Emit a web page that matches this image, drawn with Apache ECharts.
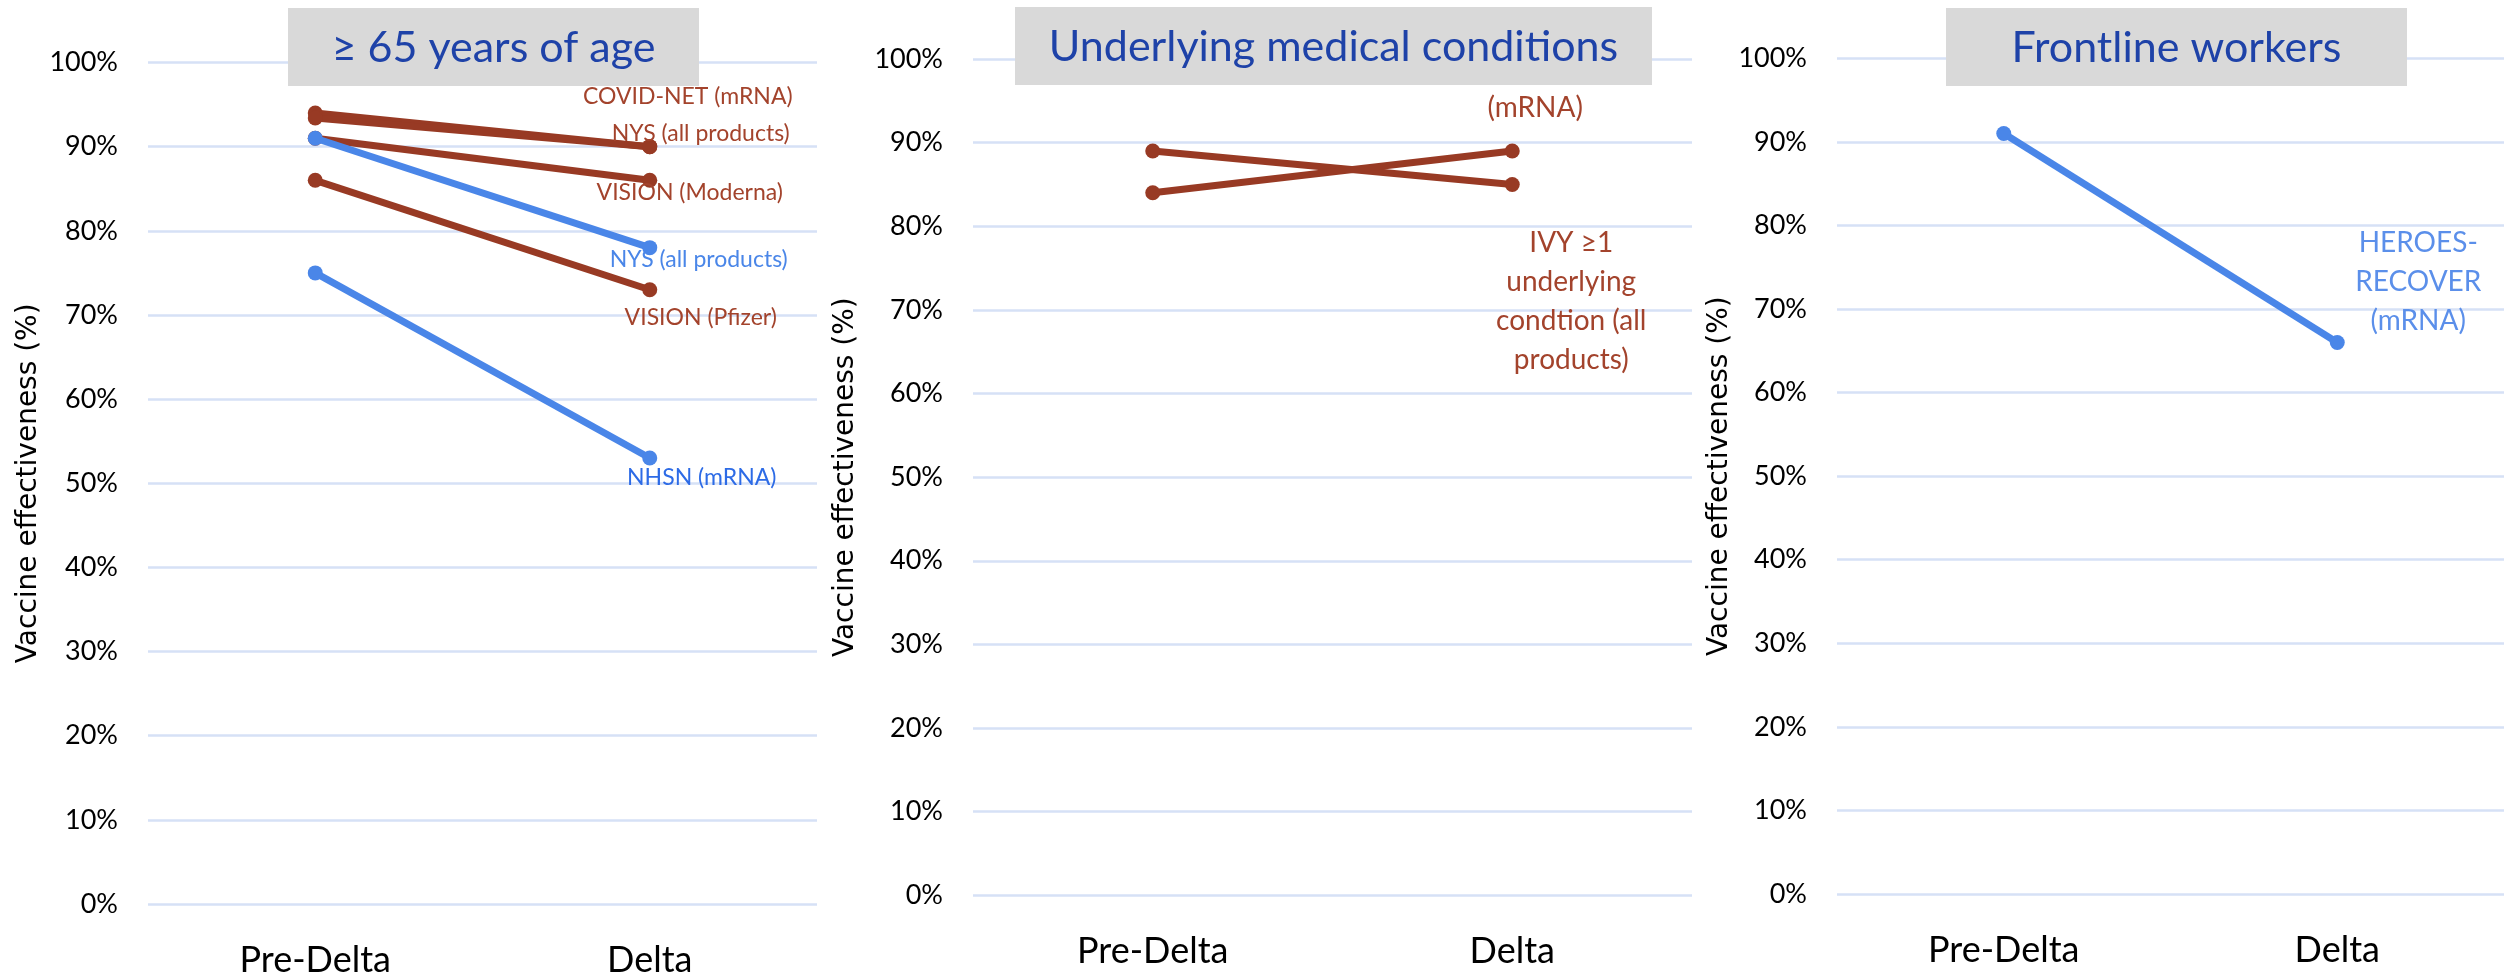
<!DOCTYPE html>
<html>
<head>
<meta charset="utf-8">
<title>Vaccine effectiveness, Pre-Delta vs Delta</title>
<script src="https://cdn.jsdelivr.net/npm/echarts@6.0.0/dist/echarts.min.js"></script>
<style>
  html, body { margin: 0; padding: 0; background: #ffffff; }
  #chart { width: 2504px; height: 980px; }
</style>
</head>
<body>
<div id="chart"></div>
<script>
// ---- data ----
const categories = ['Pre-Delta', 'Delta'];
const yTicks = [0, 10, 20, 30, 40, 50, 60, 70, 80, 90, 100];
const panelTitles = ['\u2265 65 years of age', 'Underlying medical conditions', 'Frontline workers'];
const axisName = 'Vaccine effectiveness (%)';

// ≥ 65 years of age
const olderNames = ['COVID-NET (mRNA)', 'NYS (all products)', 'VISION (Moderna)', 'VISION (Pfizer)', 'NYS (all products)', 'NHSN (mRNA)'];
const olderPreDelta = [94, 93.4, 91, 86, 91, 75];
const olderDelta = [90, 90, 86, 73, 78, 53];

// Underlying medical conditions
const conditionNames = ['IVY \u22651\nunderlying\ncondtion (all\nproducts)', '(mRNA)'];
const conditionPreDelta = [89, 84];
const conditionDelta = [85, 89];

// Frontline workers
const frontlineNames = ['HEROES-\nRECOVER\n(mRNA)'];
const frontlinePreDelta = [91];
const frontlineDelta = [66];

// ---- styling ----
const BROWN = '#983a24';
const BROWN_TEXT = '#a3432c';
const BLUE = '#4a86e8';
const FONT = 'Lato, "Noto Sans", sans-serif';

// panel layout: plot rectangles and label placement
const panels = [
  { left: 148, top: 62.5, width: 669, height: 841.5, nameGap: 105, box: [288, 8, 411, 78] },
  { left: 973, top: 59, width: 719, height: 836.3, nameGap: 113, box: [1015, 7, 637, 78] },
  { left: 1837, top: 58.3, width: 667, height: 835.7, nameGap: 103, box: [1946, 8, 461, 78] }
];

// per-series look: colour, label colour, label offset from the Delta point
const olderStyle = [
  { color: BROWN, text: BROWN_TEXT, offset: [38, -50] },
  { color: BROWN, text: BROWN_TEXT, offset: [51, -13] },
  { color: BROWN, text: BROWN_TEXT, offset: [40, 12] },
  { color: BROWN, text: BROWN_TEXT, offset: [51, 28] },
  { color: BLUE, text: '#4a86e8', offset: [49, 12] },
  { color: BLUE, text: '#2d6be6', offset: [52, 20] }
];
const conditionStyle = [
  { color: BROWN, text: BROWN_TEXT, offset: [59, 117] },
  { color: BROWN, text: BROWN_TEXT, offset: [23, -43] }
];
const frontlineStyle = [
  { color: BLUE, text: '#5b8fea', offset: [81, -60] }
];

function buildSeries(panelIndex, names, pre, delta, styles, labelSize) {
  return names.map(function (name, i) {
    const st = styles[i];
    return {
      type: 'line',
      name: name,
      xAxisIndex: panelIndex,
      yAxisIndex: panelIndex,
      symbol: 'circle',
      symbolSize: 15,
      showSymbol: true,
      animation: false,
      lineStyle: { color: st.color, width: 7 },
      itemStyle: { color: st.color },
      emphasis: { disabled: true },
      z: st.color === BLUE ? 4 : 3,
      data: [
        pre[i],
        {
          value: delta[i],
          label: {
            show: true,
            formatter: name,
            position: 'inside',
            align: 'center',
            verticalAlign: 'middle',
            offset: st.offset,
            color: st.text,
            fontFamily: FONT,
            fontSize: labelSize,
            lineHeight: Math.round(labelSize * 1.38)
          }
        }
      ]
    };
  });
}

const grids = panels.map(function (p) {
  return { left: p.left, top: p.top, width: p.width, height: p.height, containLabel: false };
});

const xAxes = panels.map(function (p, i) {
  return {
    type: 'category',
    gridIndex: i,
    data: categories,
    boundaryGap: true,
    axisLine: { show: false },
    axisTick: { show: false },
    axisLabel: { color: '#000000', fontFamily: FONT, fontSize: 36, margin: 38 },
    splitLine: { show: false }
  };
});

const yAxes = panels.map(function (p, i) {
  return {
    type: 'value',
    gridIndex: i,
    min: yTicks[0],
    max: yTicks[yTicks.length - 1],
    interval: yTicks[1] - yTicks[0],
    name: axisName,
    nameLocation: 'middle',
    nameRotate: 90,
    nameGap: p.nameGap,
    nameTextStyle: { color: '#000000', fontFamily: '"DejaVu Sans", sans-serif', fontSize: 28 },
    axisLine: { show: false },
    axisTick: { show: false },
    axisLabel: { color: '#000000', fontFamily: FONT, fontSize: 27, margin: 30, formatter: '{value}%' },
    splitLine: { show: true, lineStyle: { color: '#d6e1f6', width: 2.5 } }
  };
});

const titleGraphics = [];
panels.forEach(function (p, i) {
  const b = p.box;
  titleGraphics.push({
    type: 'rect',
    z: 100,
    shape: { x: b[0], y: b[1], width: b[2], height: b[3] },
    style: { fill: '#d9d9d9' }
  });
  titleGraphics.push({
    type: 'text',
    z: 101,
    x: b[0] + b[2] / 2,
    y: b[1] + b[3] / 2 + 1,
    style: {
      text: panelTitles[i],
      fill: '#1e42a8',
      font: '43px ' + FONT,
      align: 'center',
      verticalAlign: 'middle'
    }
  });
});

const series = []
  .concat(buildSeries(0, olderNames, olderPreDelta, olderDelta, olderStyle, 23))
  .concat(buildSeries(1, conditionNames, conditionPreDelta, conditionDelta, conditionStyle, 28))
  .concat(buildSeries(2, frontlineNames, frontlinePreDelta, frontlineDelta, frontlineStyle, 28));

const chart = echarts.init(document.getElementById('chart'), null, { renderer: 'canvas' });
chart.setOption({
  backgroundColor: '#ffffff',
  animation: false,
  grid: grids,
  xAxis: xAxes,
  yAxis: yAxes,
  series: series,
  graphic: titleGraphics
});
</script>
</body>
</html>
